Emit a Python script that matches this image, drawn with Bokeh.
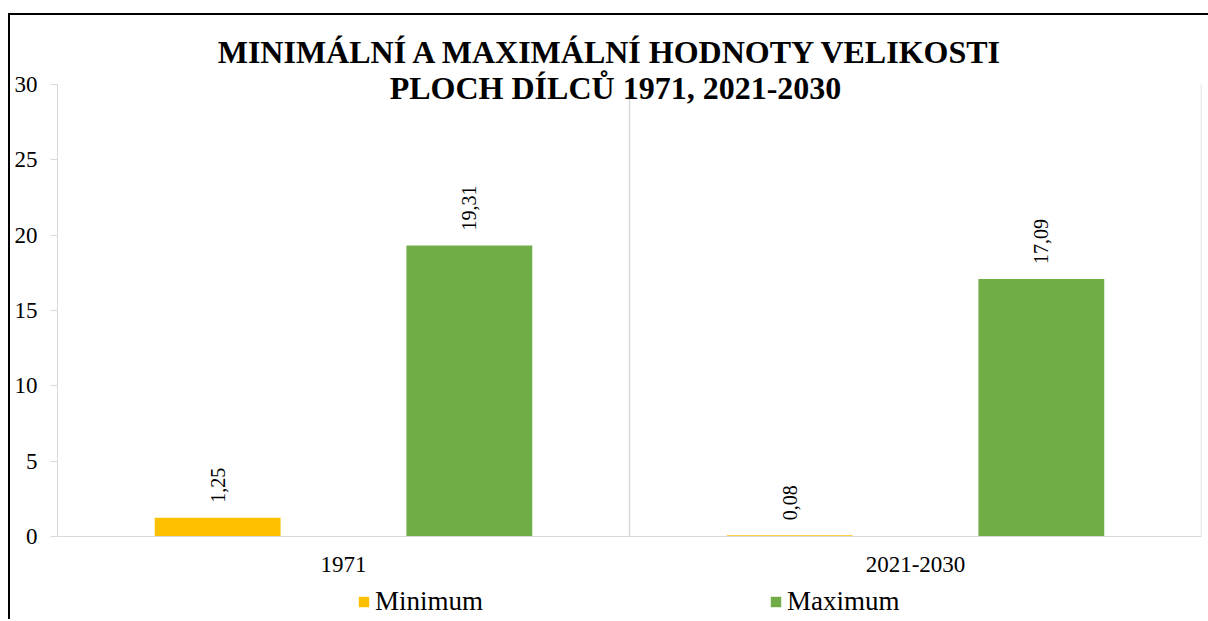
from math import pi
from bokeh.plotting import figure
from bokeh.models import ColumnDataSource, Label, LabelSet, Legend, LegendItem, Range1d
from bokeh.transform import dodge
from bokeh.core.properties import value
from bokeh.embed import file_html
from bokeh.resources import INLINE

categories = ["1971", "2021-2030"]
minimum = [1.25, 0.08]
maximum = [19.31, 17.09]
min_labels = ["1,25", "0,08"]
max_labels = ["19,31", "17,09"]
y_ticks = [0, 5, 10, 15, 20, 25, 30]
title_lines = ["MINIMÁLNÍ A MAXIMÁLNÍ HODNOTY  VELIKOSTI", "PLOCH DÍLCŮ 1971, 2021-2030"]

FONT = "Liberation Serif"
GRID = "#d9d9d9"

# layout: canvas at page (10,15) down to 621; axis 0 at page y 536, 30 at page y 84
PX_PER_UNIT = (536 - 84) / 30.0
Y_END = 30 + (84 - 15) / PX_PER_UNIT
Y_START = -(621 - 536) / PX_PER_UNIT

src = ColumnDataSource(dict(cat=categories, mn=minimum, mx=maximum,
                            mn_l=min_labels, mx_l=max_labels))

p = figure(x_range=categories, y_range=Range1d(Y_START, Y_END), width=1200, height=606,
           output_backend="svg", toolbar_location=None,
           min_border_left=47, min_border_right=9, min_border_top=0, min_border_bottom=0)
p.margin = (13, 0, 0, 8)
p.styles = {"border-top": "2px solid black", "border-left": "2px solid black",
            "box-sizing": "border-box"}
p.outline_line_color = None
p.xgrid.visible = False
p.ygrid.visible = False
p.x_range.range_padding = 0

# category separators (vertical light lines between 0 and 30)
n = len(categories)
p.segment(x0=[float(i) for i in range(1, n + 1)], y0=[0] * n,
          x1=[float(i) for i in range(1, n + 1)], y1=[y_ticks[-1]] * n,
          line_color=GRID, line_width=1.5)

r1 = p.vbar(x=dodge("cat", -0.22, range=p.x_range), top="mn", width=0.22, source=src,
            fill_color="#FFC000", line_color=None)
r2 = p.vbar(x=dodge("cat", 0.22, range=p.x_range), top="mx", width=0.22, source=src,
            fill_color="#70AD47", line_color=None)

for col, lab, off in (("mn", "mn_l", -0.22), ("mx", "mx_l", 0.22)):
    p.add_layout(LabelSet(x=dodge("cat", off, range=p.x_range), y=col, text=lab, source=src,
                          angle=pi / 2, text_align="left", text_baseline="middle",
                          y_offset=15, text_font=value(FONT), text_font_size="20px",
                          text_color="black"))

p.yaxis.ticker = y_ticks
p.yaxis.bounds = (0, 30)
p.yaxis.axis_line_color = GRID
p.yaxis.major_tick_line_color = GRID
p.yaxis.major_tick_out = 7
p.yaxis.major_tick_in = 0
p.yaxis.minor_tick_line_color = None
p.yaxis.major_label_standoff = 13
p.yaxis.major_label_text_font = FONT
p.yaxis.major_label_text_font_size = "23px"
p.yaxis.major_label_text_color = "black"

p.xaxis.fixed_location = 0
p.xaxis.axis_line_color = GRID
p.xaxis.major_tick_line_color = None
p.xaxis.minor_tick_line_color = None
p.xaxis.major_label_standoff = 14
p.xaxis.major_label_text_font = FONT
p.xaxis.major_label_text_font_size = "23px"
p.xaxis.major_label_text_color = "black"

p.add_layout(Label(x=1.0, y=30, text=title_lines[0], x_offset=-14, y_offset=33,
                   text_align="center", text_baseline="alphabetic", text_font=FONT,
                   text_font_size="32px", text_font_style="bold", text_color="black"))
p.add_layout(Label(x=1.0, y=30, text=title_lines[1], x_offset=-14, y_offset=-3,
                   text_align="center", text_baseline="alphabetic", text_font=FONT,
                   text_font_size="32px", text_font_style="bold", text_color="black"))

legend = Legend(items=[LegendItem(label="Minimum", renderers=[r1]),
                       LegendItem(label="Maximum", renderers=[r2])],
                orientation="horizontal", location=(300, 4), spacing=286,
                glyph_width=13, glyph_height=13, label_standoff=5, label_height=25,
                label_text_font=FONT, label_text_font_size="27px", label_text_color="black",
                border_line_color=None, background_fill_alpha=0, padding=0, margin=0)
p.add_layout(legend)

open("out.html", "w").write(file_html(p, INLINE))
